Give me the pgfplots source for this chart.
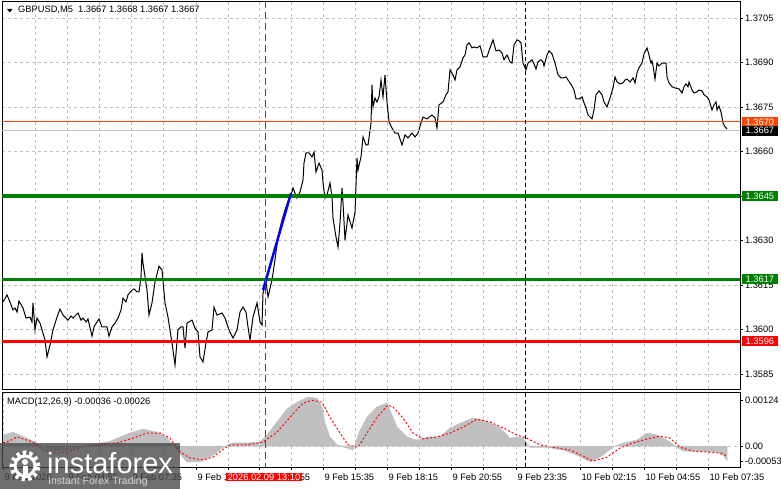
\documentclass[border=0pt]{standalone}
\usepackage{pgfplots}
\pgfplotsset{compat=1.18}
\usepackage{fontspec}
\setmainfont{Liberation Sans}
\newcommand\mtfont{\fontsize{9.3bp}{11bp}\selectfont}
\definecolor{mtgreen}{HTML}{008000}
\definecolor{mtorange}{HTML}{FF4500}
\definecolor{mtgrid}{HTML}{C0C0C0}
\definecolor{mtsilver}{HTML}{C0C0C0}

\pgfplotsset{mtaxis/.style={
  scale only axis,
  axis line style={black, line width=0.8bp},
  grid style={mtgrid, line width=0.8bp, dash pattern=on 3bp off 3bp},
  tick align=outside, major tick length=3bp,
  tick style={black, line width=0.8bp},
  ticklabel style={font=\mtfont, text=black},
  scaled y ticks=false, scaled x ticks=false,
  xmin=2, xmax=740,
}}

\begin{document}
\begin{tikzpicture}[x=1bp,y=1bp]
\path[use as bounding box] (0,0) rectangle (781,489);
\fill[white] (0,0) rectangle (781,489);

% price panel (x = screen column, 2 px per 5-minute bar)
\begin{axis}[mtaxis,
  name=main, at={(2bp,100bp)}, anchor=south west,
  width=738bp, height=388bp,
  ymin=1.35800, ymax=1.37107,
  xmajorgrids=true, ymajorgrids=true,
  xtick={35,67,99,131,163,196,228,259,291,323,355,387,419,451,483,516,548,580,612,644,676,708},
  xticklabels={}, xtick style={draw=none},
  ytick={1.3585,1.3600,1.3615,1.3630,1.3645,1.3660,1.3675,1.3690,1.3705},
  yticklabels={1.3585,1.3600,1.3615,1.3630,,1.3660,1.3675,1.3690,1.3705},
  ytick pos=right, yticklabel pos=right,
  yticklabel style={anchor=west, xshift=-1.5bp},
]
\addplot[black, line width=1bp] coordinates {
(3,1.36093)(7,1.36117)(10,1.36093)(13,1.36066)(15,1.36073)(17,1.36059)(19,1.36096)(23,1.36073)
(26,1.36039)(30,1.36042)(32,1.36026)(33,1.36090)(35,1.35999)(37,1.36039)(40,1.36022)(43,1.35988)
(45,1.35965)(47,1.35908)(50,1.35948)(53,1.35999)(57,1.36042)(60,1.36069)(63,1.36049)(66,1.36039)
(68,1.36032)(71,1.36046)(73,1.36039)(78,1.36056)(81,1.36032)(83,1.36039)(86,1.36026)(88,1.36036)
(92,1.35978)(94,1.36009)(97,1.36026)(99,1.36036)(102,1.36009)(105,1.36009)(107,1.36009)(109,1.35978)
(112,1.36009)(115,1.36022)(118,1.36039)(121,1.36066)(123,1.36106)(126,1.36093)(128,1.36117)(132,1.36133)
(134,1.36137)(137,1.36127)(139,1.36127)(141,1.36177)(142,1.36258)(143,1.36224)(147,1.36133)(149,1.36049)
(152,1.36090)(155,1.36160)(159,1.36214)(162,1.36201)(165,1.36090)(168,1.36042)(172,1.35955)(175,1.35881)
(178,1.35999)(181,1.36009)(183,1.36009)(185,1.35938)(187,1.36022)(192,1.36032)(195,1.36005)(198,1.35992)
(200,1.35908)(203,1.35891)(206,1.35955)(208,1.35992)(212,1.35999)(214,1.36076)(217,1.36049)(222,1.36056)
(225,1.36039)(229,1.35999)(233,1.35972)(237,1.35999)(240,1.36059)(243,1.36076)(246,1.36059)(248,1.36009)
(250,1.35965)(253,1.36042)(257,1.36090)(260,1.36026)(262,1.36015)(263,1.36123)(266,1.36160)(268,1.36110)
(272,1.36167)(275,1.36235)(278,1.36312)(282,1.36369)(285,1.36403)(288,1.36430)(292,1.36464)(293,1.36477)
(295,1.36460)(297,1.36443)(300,1.36464)(303,1.36504)(304,1.36561)(306,1.36595)(309,1.36595)(312,1.36582)
(314,1.36598)(316,1.36531)(319,1.36561)(322,1.36538)(323,1.36494)(325,1.36443)(327,1.36454)(330,1.36494)
(332,1.36447)(333,1.36376)(336,1.36312)(338,1.36278)(340,1.36359)(342,1.36477)(343,1.36427)(345,1.36302)
(348,1.36386)(352,1.36342)(355,1.36396)(357,1.36578)(358,1.36538)(361,1.36582)(363,1.36649)(366,1.36622)
(368,1.36622)(371,1.36696)(372,1.36824)(373,1.36750)(375,1.36780)(377,1.36767)(379,1.36784)(381,1.36841)
(383,1.36784)(385,1.36858)(387,1.36767)(389,1.36700)(392,1.36679)(395,1.36662)(398,1.36662)(402,1.36622)
(405,1.36656)(408,1.36646)(412,1.36662)(415,1.36649)(418,1.36662)(421,1.36696)(423,1.36716)(427,1.36710)
(432,1.36723)(435,1.36713)(437,1.36679)(439,1.36757)(443,1.36767)(446,1.36791)(448,1.36801)(450,1.36875)
(453,1.36858)(455,1.36841)(457,1.36875)(460,1.36885)(463,1.36915)(465,1.36925)(467,1.36959)(469,1.36966)
(472,1.36949)(474,1.36952)(477,1.36949)(480,1.36956)(483,1.36919)(487,1.36919)(490,1.36949)(493,1.36976)
(496,1.36939)(499,1.36942)(502,1.36932)(504,1.36909)(507,1.36925)(510,1.36902)(512,1.36898)(514,1.36959)
(517,1.36976)(519,1.36973)(521,1.36966)(523,1.36898)(526,1.36875)(528,1.36898)(532,1.36909)(534,1.36895)
(536,1.36878)(538,1.36902)(541,1.36909)(543,1.36902)(544,1.36888)(547,1.36925)(549,1.36939)(552,1.36929)
(555,1.36898)(558,1.36858)(561,1.36848)(563,1.36848)(566,1.36851)(568,1.36841)(572,1.36821)(574,1.36807)
(576,1.36777)(579,1.36777)(582,1.36784)(584,1.36764)(586,1.36747)(588,1.36723)(590,1.36716)(592,1.36710)
(594,1.36740)(596,1.36791)(599,1.36804)(602,1.36791)(604,1.36767)(607,1.36750)(610,1.36780)(613,1.36814)
(615,1.36851)(617,1.36834)(620,1.36828)(623,1.36831)(625,1.36841)(627,1.36844)(630,1.36834)(633,1.36848)
(635,1.36831)(637,1.36865)(639,1.36882)(642,1.36898)(644,1.36929)(647,1.36949)(649,1.36925)(651,1.36898)
(652,1.36905)(653,1.36888)(655,1.36844)(657,1.36898)(659,1.36888)(662,1.36898)(664,1.36898)(666,1.36898)
(667,1.36851)(669,1.36831)(672,1.36818)(675,1.36814)(679,1.36811)(682,1.36797)(684,1.36818)(686,1.36828)
(688,1.36818)(689,1.36834)(692,1.36807)(694,1.36797)(697,1.36801)(699,1.36807)(702,1.36804)(704,1.36791)
(707,1.36784)(709,1.36774)(712,1.36740)(714,1.36757)(716,1.36767)(717,1.36740)(719,1.36753)(721,1.36733)
(723,1.36696)(725,1.36683)(727,1.36676)
};
% level lines
\addplot[mtsilver, line width=1bp] coordinates {(2,1.3667)(740,1.3667)};
\addplot[mtorange, line width=1.3bp] coordinates {(2,1.3670)(740,1.3670)};
\addplot[mtgreen, line width=4.5bp] coordinates {(2,1.3645)(740,1.3645)};
\addplot[mtgreen, line width=3bp] coordinates {(2,1.3617)(740,1.3617)};
\addplot[red, line width=2.5bp] coordinates {(2,1.3596)(740,1.3596)};
\addplot[blue, line width=2.5bp] coordinates {(263,1.36133)(291,1.36460)};
\coordinate (L70) at (axis cs:740,1.3670);
\coordinate (L67) at (axis cs:740,1.3667);
\coordinate (L45) at (axis cs:740,1.3645);
\coordinate (L17) at (axis cs:740,1.3617);
\coordinate (L96) at (axis cs:740,1.3596);
\end{axis}

% MACD panel
\begin{axis}[mtaxis,
  name=macd, at={(2bp,22bp)}, anchor=south west,
  width=738bp, height=75bp,
  ymin=-0.00053, ymax=0.00137,
  xmajorgrids=true,
  xtick={3,35,67,99,131,163,196,228,259,291,323,355,387,419,451,483,516,548,580,612,644,676,708},
  xticklabels={9 Feb 2026,,9 Feb 04:55,,9 Feb 07:35,,9 Feb 10:15,,9 Feb 12:55,,9 Feb 15:35,,9 Feb 18:15,,9 Feb 20:55,,9 Feb 23:35,,10 Feb 02:15,,10 Feb 04:55,,10 Feb 07:35},
  xtick pos=bottom,
  xticklabel style={anchor=north west, xshift=-2bp},
  ytick={-0.00038,0,0.00116},
  yticklabels={-0.00053,0.00,0.00124},
  ytick pos=right, yticklabel pos=right,
  yticklabel style={anchor=west, xshift=-1.5bp},
]
\addplot[fill=mtsilver, draw=mtsilver, line width=0.5bp] coordinates {
(3,0.00028)(13,0.00035)(27,0.00020)(35,0.00010)(45,-0.00003)(55,-0.00012)(67,-0.00008)(80,0.00000)
(95,0.00005)(110,0.00012)(122,0.00025)(130,0.00033)(143,0.00043)(157,0.00035)(167,0.00020)(173,0.00003)
(180,-0.00020)(187,-0.00040)(200,-0.00040)(213,-0.00023)(223,-0.00003)(233,0.00008)(247,0.00008)(260,0.00010)
(267,0.00028)(277,0.00061)(287,0.00094)(297,0.00111)(308,0.00124)(317,0.00121)(322,0.00099)(325,0.00058)
(330,0.00023)(337,0.00003)(347,-0.00005)(353,-0.00010)(360,0.00040)(367,0.00073)(377,0.00099)(387,0.00109)
(390,0.00091)(397,0.00048)(407,0.00023)(417,0.00015)(427,0.00023)(440,0.00023)(450,0.00046)(463,0.00061)
(473,0.00071)(480,0.00068)(490,0.00058)(500,0.00046)(510,0.00020)(518,0.00023)(523,0.00020)(530,-0.00003)
(547,-0.00003)(563,-0.00010)(577,-0.00023)(590,-0.00040)(603,-0.00023)(613,-0.00003)(623,0.00008)(637,0.00015)
(647,0.00033)(657,0.00028)(667,0.00015)(677,-0.00003)(683,-0.00013)(703,-0.00013)(717,-0.00015)(723,-0.00023)
(727,-0.00036)
} \closedcycle;
\addplot[red, line width=1bp, dash pattern=on 2bp off 2bp] coordinates {
(3,0.00008)(7,0.00010)(17,0.00023)(33,0.00010)(43,-0.00010)(55,-0.00018)(67,-0.00015)(80,-0.00003)
(100,0.00003)(117,0.00008)(133,0.00020)(147,0.00033)(160,0.00033)(170,0.00020)(180,-0.00015)(190,-0.00030)
(203,-0.00035)(213,-0.00028)(222,-0.00010)(230,0.00003)(247,0.00003)(263,0.00010)(277,0.00035)(290,0.00073)
(303,0.00109)(312,0.00116)(322,0.00111)(330,0.00073)(340,0.00033)(348,0.00003)(358,-0.00003)(367,0.00033)
(377,0.00073)(388,0.00104)(393,0.00099)(403,0.00071)(413,0.00033)(423,0.00018)(437,0.00023)(450,0.00033)
(463,0.00048)(477,0.00068)(490,0.00061)(503,0.00046)(517,0.00028)(527,0.00020)(540,0.00003)(553,-0.00003)
(570,-0.00010)(583,-0.00025)(593,-0.00038)(607,-0.00028)(620,-0.00005)(633,0.00008)(647,0.00018)(660,0.00025)
(670,0.00020)(680,-0.00003)(693,-0.00013)(707,-0.00015)(720,-0.00018)(727,-0.00025)
};
\addplot[mtgrid, line width=0.8bp, dash pattern=on 3bp off 3bp] coordinates {(2,0)(740,0)};
\end{axis}

% session markers across both panels
\draw[red, line width=1bp, dash pattern=on 7bp off 4bp] (265,488) -- (265,22);
\draw[black, line width=1bp, dash pattern=on 4bp off 3bp] (525,488) -- (525,22);

% boxed price labels
\tikzset{pl/.style={anchor=west, font=\mtfont, text=white, inner xsep=3.5bp, inner ysep=0.5bp, minimum height=10bp}}
\node[pl, fill=mtorange] at ([xshift=2bp]L70) {1.3670};
\node[pl, fill=black] at ([xshift=2bp]L67) {1.3667};
\node[pl, fill=mtgreen] at ([xshift=2bp]L45) {1.3645};
\node[pl, fill=mtgreen] at ([xshift=2bp]L17) {1.3617};
\node[pl, fill=red] at ([xshift=2bp]L96) {1.3596};

% header and indicator caption
\fill[black] (7,480) -- (12.5,480) -- (9.75,476.5) -- cycle;
\node[anchor=west, font=\mtfont, inner sep=0] at (18,479) {GBPUSD,M5\ \ 1.3667 1.3668 1.3667 1.3667};
\node[anchor=west, font=\mtfont, inner sep=0] at (7,87) {MACD(12,26,9) -0.00036 -0.00026};

% selected bar time
\node[fill=red, text=white, font=\mtfont, inner xsep=2bp, inner ysep=1bp] at (264,12) {2026.02.09 13:10};

% watermark
\fill[black!72, fill opacity=0.78] (0,0) rectangle (180,46);
\draw[white, line width=5bp, dash pattern=on 3.2bp off 3.2bp] (25,23) circle (13);
\draw[white, line width=3bp] (25,23) circle (10);
\fill[white] (25,27) circle (3);
\fill[white] (22.5,11) rectangle (27.5,23);
\node[anchor=base west, inner sep=0, text=white, font=\fontsize{29bp}{30bp}\selectfont] at (47,15) {instaforex};
\node[anchor=base west, inner sep=0, text=white!85!black, font=\fontsize{10.5bp}{12bp}\selectfont] at (48,4.5) {Instant Forex Trading};
\end{tikzpicture}
\end{document}
